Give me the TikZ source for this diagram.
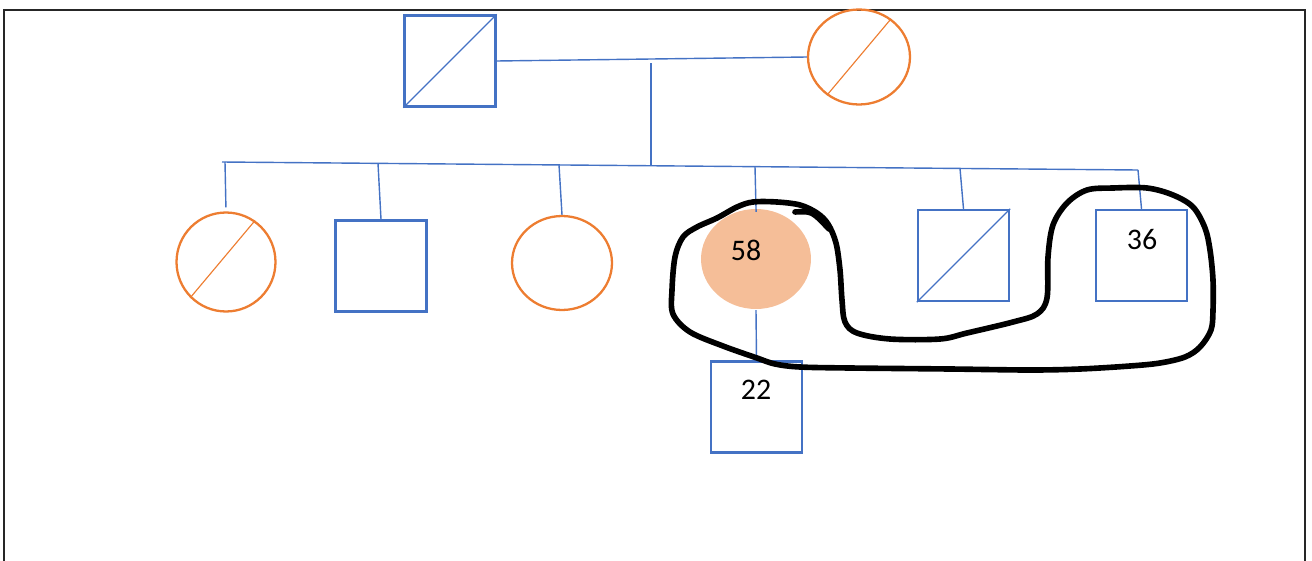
\documentclass[tikz,border=0pt]{standalone}
\usepackage{fontspec}
\setmainfont{Carlito}
\usetikzlibrary{shapes.geometric}

\definecolor{pedblue}{HTML}{4472C4}
\definecolor{pedorange}{HTML}{ED7D31}
\definecolor{peach}{HTML}{F5BE98}

\begin{document}
\begin{tikzpicture}[x=0.02cm, y=-0.02cm,
    male/.style={rectangle, draw=pedblue, line width=1.3pt, minimum size=1.82cm, inner sep=0pt},
    female/.style={ellipse, draw=pedorange, line width=1.3pt, inner sep=0pt},
    link/.style={draw=pedblue, line width=0.8pt},
    dead/.style={line width=0.65pt},
    age/.style={inner sep=0pt, font=\fontsize{17}{20}\selectfont},
    handloop/.style={draw=black, line width=3.2pt, line cap=round, line join=round}
]
    \useasboundingbox (0,0) rectangle (1312,561);

    % Frame
    \draw[black!85, line width=1.6pt] (4,561) -- (4,10) -- (1305,10) -- (1305,561);

    % Grandparents
    \node[male] (gpa) at (450,61) {};
    \node[female, minimum width=2.04cm, minimum height=1.9cm] (gma) at (859,57) {};
    \draw[link, dead] (gpa.south west) -- (gpa.north east);
    \draw[pedorange, dead] (gma.230) -- (gma.50);

    % Marriage and descent
    \draw[link] (gpa.east) -- (gma.west);
    \coordinate (mtop) at (651,63);
    \coordinate (mbot) at (651,166);
    \draw[link] (mtop) -- (mbot);

    % Sibship line
    \coordinate (sibl) at (222,162);
    \coordinate (sibr) at (1138,170);
    \draw[link] (sibl) -- (sibr);

    % Children
    \node[female, minimum width=1.98cm, minimum height=1.98cm] (sis1) at (226,262) {};
    \node[male] (bro1) at (381,266) {};
    \node[female, minimum width=2cm, minimum height=1.88cm] (sis2) at (562,263) {};
    \node[female, draw=none, fill=peach, minimum width=2.2cm, minimum height=2cm] (prob) at (756,259) {};
    \node[male] (bro2) at (963.5,255.5) {};
    \node[male] (bro3) at (1141.5,255.5) {};
    \draw[pedorange, dead] (sis1.225) -- (sis1.55);
    \draw[link, dead] (bro2.south west) -- (bro2.north east);

    % Drop lines
    \coordinate (d1) at (225,162);
    \coordinate (d2) at (378,163.4);
    \coordinate (d3) at (559,164.9);
    \coordinate (d4) at (755,166.7);
    \coordinate (d5) at (960,168.4);
    \draw[link, shorten >=0.08cm] (d1) -- (sis1.north);
    \draw[link] (d2) -- (bro1.north);
    \draw[link] (d3) -- (sis2.north);
    \draw[link, shorten >=-0.08cm] (d4) -- (prob.north);
    \draw[link] (d5) -- (bro2.north);
    \draw[link] (sibr) -- (bro3.north);

    % Next generation
    \node[male] (son) at (756.5,407) {};
    \draw[link] (prob.south) -- (son.north);

    % Ages
    \node[age] (age58) at (746,250) {58};
    \node[age] (age36) at (1142,240) {36};
    \node[age] (age22) at (756,390) {22};

    % Freehand ring round the carriers
    \draw[handloop] plot[smooth cycle, tension=0.55] coordinates {
        (737,207) (753,202) (777,202) (800,205) (817,213) (828,224)
        (836,243) (840,270) (842,300) (845,322) (857,333) (890,339)
        (940,339) (967,333) (1013,322) (1037,314) (1047,298) (1048,257)
        (1053,225) (1067,203) (1087,190) (1113,188) (1147,188) (1173,195)
        (1193,207) (1205,228) (1210,250) (1213,280) (1213,310) (1211,330)
        (1200,347) (1185,357) (1160,363) (1130,366) (1080,369) (1030,370)
        (950,369) (850,368) (800,367) (775,364) (757,358) (723,346)
        (690,332) (673,314) (672,290) (675,257) (683,237) (697,227) (717,218)};
    \draw[handloop] (795,212) .. controls (812,211) .. (829,229);
\end{tikzpicture}
\end{document}
